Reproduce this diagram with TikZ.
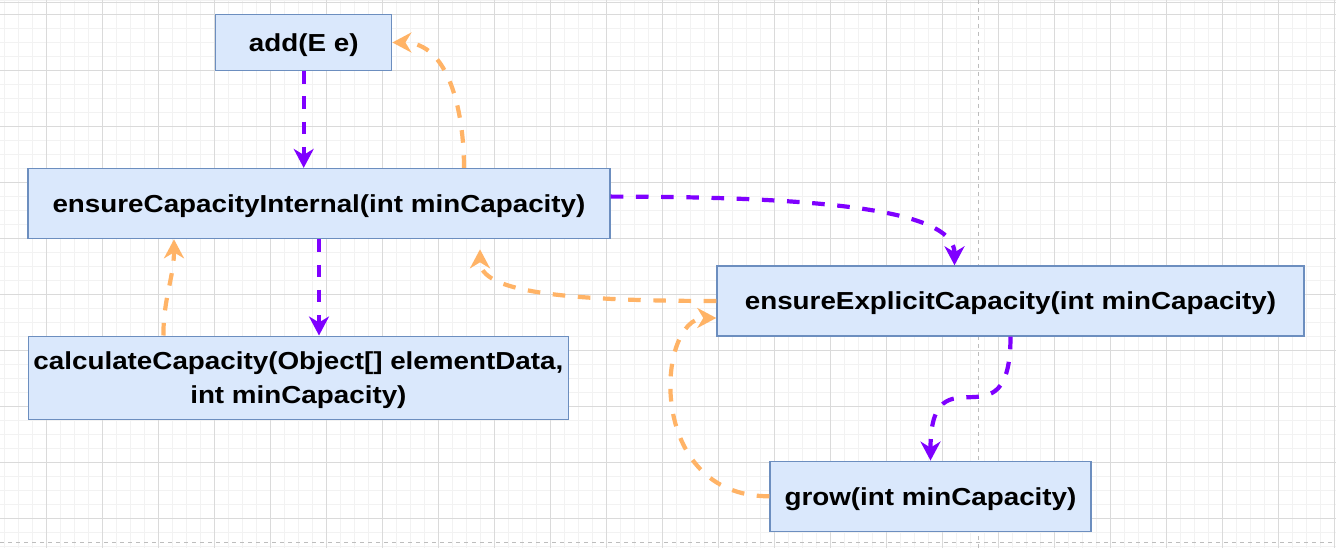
\documentclass[tikz,border=0pt]{standalone}
\usepackage{fontspec}
\setmainfont{Liberation Sans}[FakeStretch=1.13]
\usetikzlibrary{arrows.meta}

\definecolor{boxfill}{HTML}{DAE8FC}
\definecolor{boxline}{HTML}{6C8EBF}
\definecolor{callcol}{HTML}{7F00FF}
\definecolor{retcol}{HTML}{FFB366}
\definecolor{minorcol}{HTML}{F2F2F2}
\definecolor{majorcol}{HTML}{DADADA}
\definecolor{pagecol}{HTML}{BDBDBD}

\tikzset{
  method/.style={draw=boxline, fill=boxfill, line width=1.4pt, inner sep=0pt, align=center,
    font=\fontsize{24.6}{34}\selectfont\bfseries, text height=23.9pt, text depth=6.2pt},
  callline/.style={draw=callcol, line width=4.2pt, dash pattern=on 12.6pt off 12.6pt,
    -{Stealth[length=19pt,width=20pt,inset=6pt]}},
  retline/.style={draw=retcol, line width=4.2pt, dash pattern=on 12.6pt off 12.6pt,
    -{Stealth[length=19pt,width=20pt,inset=6pt]}},
  minorgrid/.style={draw=minorcol, line width=1.4pt},
  majorgrid/.style={draw=majorcol, line width=1.4pt},
  pagebreak/.style={draw=pagecol, line width=1.2pt, dash pattern=on 4pt off 4pt}
}

\begin{document}
\begin{tikzpicture}[x=1pt, y=-1pt]
  \useasboundingbox (0,0) rectangle (1336,548);
  \fill[white] (0,0) rectangle (1336,548);
  % background grid
  \foreach \gx in {0,...,95} \draw[minorgrid] ({4.7+14*\gx},0) -- ++(0,548);
  \foreach \gy in {0,...,39} \draw[minorgrid] (0,{0.3+14*\gy}) -- ++(1336,0);
  \foreach \gx in {0,...,23} \draw[majorgrid] ({46.7+56*\gx},0) -- ++(0,548);
  \foreach \gy in {0,...,9} \draw[majorgrid] (0,{14.3+56*\gy}) -- ++(1336,0);
  \draw[majorgrid] (0,2.3) -- (1336,2.3);
  \draw[pagebreak] (978.3,0) -- (978.3,548);
  \draw[pagebreak] (0,542.3) -- (1336,542.3);

  \node[method, minimum width=176pt, minimum height=56pt] (add) at (303.7,42.5) {add(E e)};
  \node[method, minimum width=582pt, minimum height=70pt] (eci) at (319,203.6) {ensureCapacityInternal(int minCapacity)};
  \node[method, minimum width=540pt, minimum height=83pt, text height=57.9pt] (calc) at (298.4,377.7) {calculateCapacity(Object[] elementData,\\int minCapacity)};
  \node[method, minimum width=587pt, minimum height=70pt] (expl) at (1010.5,301) {ensureExplicitCapacity(int minCapacity)};
  \node[method, minimum width=321pt, minimum height=70pt] (grow) at (930.5,496.3) {grow(int minCapacity)};

  \draw[callline] (add.south) -- (add.south |- eci.north);
  \draw[retline] ([xshift=145pt]eci.north) to[out=90,in=0] (add.east);
  \draw[callline] (eci.south) -- (eci.south |- calc.north);
  \draw[retline] ([xshift=-135pt]calc.north) to[out=90,in=-90] ([xshift=-145pt]eci.south);
  \draw[callline] ([yshift=7pt]eci.east) .. controls +(240,0) and +(0,-51) .. ([xshift=-56pt]expl.north);
  \draw[retline] (expl.west) .. controls +(-157,0) and +(0,42) .. ([xshift=161pt,yshift=-10pt]eci.south);
  \draw[callline] (expl.south) to[out=-90,in=90,looseness=2] (grow.north);
  \draw[retline] (grow.west) .. controls +(-125,0) and +(-60,0) .. ([yshift=-17pt]expl.west);
\end{tikzpicture}
\end{document}
